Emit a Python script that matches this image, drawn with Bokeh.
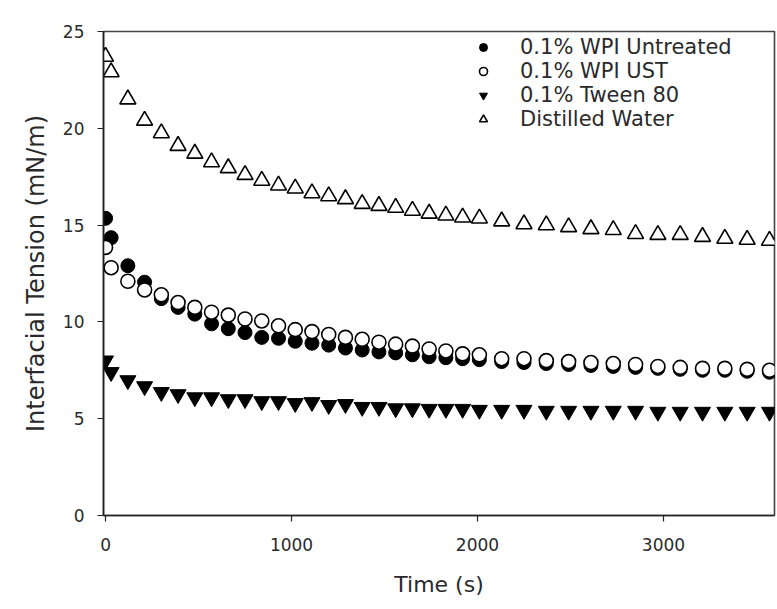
from bokeh.plotting import figure
from bokeh.models import Range1d, FixedTicker, Legend, LegendItem, ColumnDataSource
from bokeh.embed import file_html
from bokeh.resources import INLINE

# Sampling times (s): 30 s after start, then every 90 s, then every 120 s
time_s = [0, 30, 120, 210, 300, 390, 480, 570, 660, 750, 840, 930, 1020, 1110,
          1200, 1290, 1380, 1470, 1560, 1650, 1740, 1830, 1920, 2010, 2130, 2250,
          2370, 2490, 2610, 2730, 2850, 2970, 3090, 3210, 3330, 3450, 3570]

# Interfacial tension (mN/m)
wpi_untreated = [15.35, 14.35, 12.9, 12.05, 11.2, 10.75, 10.4, 9.9, 9.65, 9.45,
                 9.2, 9.15, 9.0, 8.9, 8.8, 8.65, 8.55, 8.45, 8.4, 8.3, 8.2,
                 8.15, 8.1, 8.05, 7.95, 7.9, 7.85, 7.8, 7.75, 7.7, 7.65, 7.6,
                 7.55, 7.5, 7.5, 7.45, 7.4]
wpi_ust = [13.85, 12.8, 12.1, 11.65, 11.4, 11.0, 10.75, 10.5, 10.35, 10.15,
           10.05, 9.8, 9.6, 9.5, 9.35, 9.2, 9.1, 8.95, 8.85, 8.75, 8.6,
           8.5, 8.35, 8.3, 8.1, 8.1, 8.0, 7.95, 7.9, 7.85, 7.8, 7.7,
           7.65, 7.6, 7.6, 7.55, 7.5]
tween_80 = [8.0, 7.4, 6.98, 6.67, 6.37, 6.26, 6.1, 6.1, 6.0, 6.0, 5.9, 5.9,
            5.8, 5.85, 5.7, 5.75, 5.6, 5.6, 5.53, 5.53, 5.5, 5.5, 5.5, 5.45,
            5.45, 5.45, 5.4, 5.4, 5.4, 5.4, 5.4, 5.35, 5.35, 5.35, 5.35, 5.35, 5.35]
distilled_water = [23.7, 22.9, 21.5, 20.4, 19.75, 19.1, 18.7, 18.25, 17.95, 17.6,
                   17.3, 17.05, 16.9, 16.65, 16.5, 16.35, 16.1, 16.0, 15.9, 15.75,
                   15.6, 15.5, 15.4, 15.35, 15.2, 15.05, 15.0, 14.9, 14.8, 14.75,
                   14.55, 14.5, 14.5, 14.4, 14.3, 14.25, 14.2]

series_names = ["0.1% WPI Untreated", "0.1% WPI UST", "0.1% Tween 80", "Distilled Water"]
x_ticks = [0, 1000, 2000, 3000]
y_ticks = [0, 5, 10, 15, 20, 25]

FONT = "DejaVu Sans"
TEXT = "#2a2a2a"

p = figure(width=777, height=609, output_backend="svg", toolbar_location=None,
           x_range=Range1d(-11, 3597), y_range=Range1d(0, 25),
           min_border_left=103, min_border_right=3, min_border_top=31,
           min_border_bottom=94)
p.grid.visible = False
p.background_fill_color = "white"
p.border_fill_color = "white"
p.outline_line_color = "#444444"
p.outline_line_width = 1.6

for ax in (p.xaxis, p.yaxis):
    ax.axis_line_color = "#222222"
    ax.axis_line_width = 1.6
    ax.major_tick_line_color = "#222222"
    ax.major_tick_line_width = 1.2
    ax.major_tick_in = 0
    ax.major_tick_out = 6
    ax.minor_tick_line_color = None
    ax.major_label_text_font = FONT
    ax.major_label_text_font_size = "17px"
    ax.major_label_text_color = TEXT
    ax.axis_label_text_font = FONT
    ax.axis_label_text_font_style = "normal"
    ax.axis_label_text_color = TEXT

p.xaxis.axis_label_text_font_size = "22px"
p.yaxis.axis_label_text_font_size = "24px"
p.xaxis.ticker = FixedTicker(ticks=x_ticks)
p.yaxis.ticker = FixedTicker(ticks=y_ticks)
p.xaxis.axis_label = "Time (s)"
p.yaxis.axis_label = "Interfacial Tension (mN/m)"
p.xaxis.major_label_standoff = 16
p.yaxis.major_label_standoff = 13
p.xaxis.axis_label_standoff = 18
p.yaxis.axis_label_standoff = 10

src = ColumnDataSource(dict(t=time_s, a=wpi_untreated, b=wpi_ust, c=tween_80, d=distilled_water))

r1 = p.scatter("t", "a", source=src, marker="circle", size=14,
               fill_color="black", line_color="black", line_width=1)
r2 = p.scatter("t", "b", source=src, marker="circle", size=14,
               fill_color="white", line_color="black", line_width=1.6)
r3 = p.scatter("t", "c", source=src, marker="inverted_triangle", size=16,
               fill_color="black", line_color="black", line_width=1)
r4 = p.scatter("t", "d", source=src, marker="triangle", size=16,
               fill_color="white", line_color="black", line_width=1.6)

legend = Legend(items=[LegendItem(label=n, renderers=[r]) for n, r in
                       zip(series_names, [r1, r2, r3, r4])],
                location=(370, 384), orientation="vertical",
                label_text_font=FONT, label_text_font_size="21px",
                label_text_color=TEXT, label_standoff=27,
                glyph_width=20, glyph_height=24, label_height=24,
                spacing=0, padding=0, margin=0,
                border_line_color=None, background_fill_alpha=0)
p.add_layout(legend)

open("out.html", "w").write(file_html(p, INLINE))
